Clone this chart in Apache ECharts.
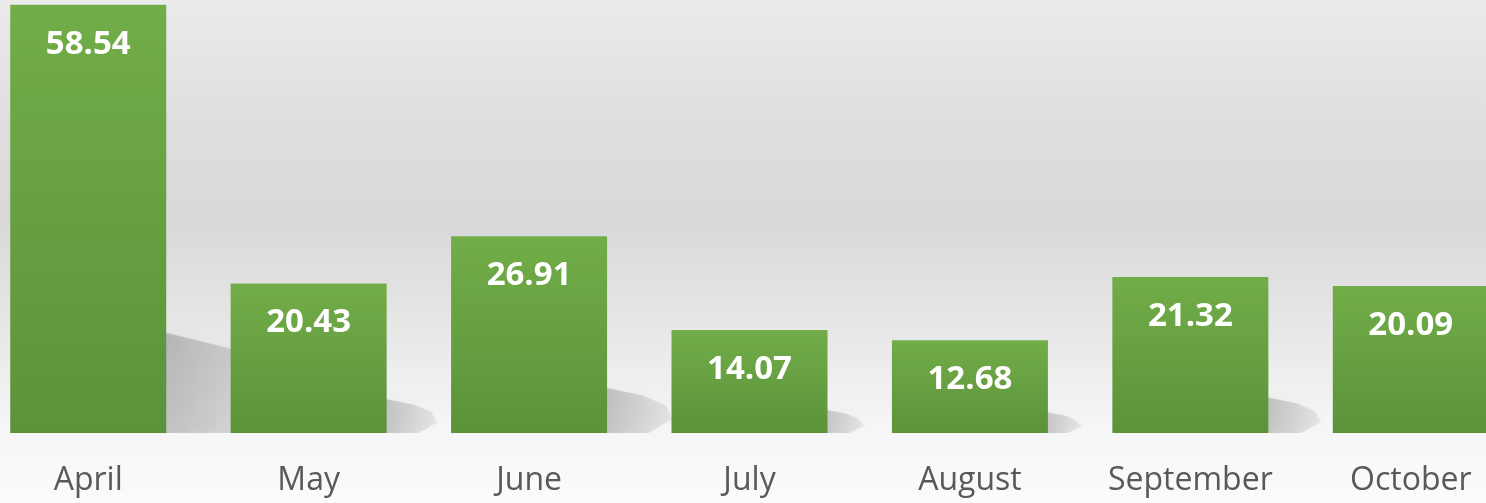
<!DOCTYPE html>
<html>
<head>
<meta charset="utf-8">
<script src="https://cdn.jsdelivr.net/npm/echarts@6/dist/echarts.min.js"></script>
<style>
html,body{margin:0;padding:0;width:1486px;height:503px;overflow:hidden;position:relative;}
body{background:linear-gradient(to bottom,#ebebeb 0%,#dedede 25%,#d9d9d9 45%,#e9e9e9 68%,#f6f6f6 85%,#fbfbfb 100%);}
#c{position:absolute;left:-22px;top:0;width:1543px;height:503px;}
</style>
</head>
<body>
<div id="c"></div>
<script>
const categories = ['April','May','June','July','August','September','October'];
const values = [58.54, 20.43, 26.91, 14.07, 12.68, 21.32, 20.09];

const chart = echarts.init(document.getElementById('c'), null, {renderer:'canvas'});
const BAR_W = 156;
chart.setOption({
  animation:false,
  backgroundColor:'transparent',
  grid:{left:0, right:0, top:0, bottom:70},
  xAxis:{
    type:'category', data:categories,
    axisLine:{show:false}, axisTick:{show:false},
    axisLabel:{color:'#595959', fontFamily:'Open Sans', fontSize:32, margin:32, interval:0}
  },
  yAxis:{type:'value', min:0, max:59.2, show:false, splitLine:{show:false}},
  series:[
    {
      type:'custom',
      z:1,
      clip:true,
      data:values.map((v,i)=>[i,v]),
      renderItem:function(params, api){
        const i = api.value(0), v = api.value(1);
        const top = api.coord([i, v]);
        const base = api.coord([i, 0]);
        const h = base[1]-top[1];
        const xr = base[0] + BAR_W/2;
        const dx = Math.min(0.3*h, 130);
        return {
          type:'polygon',
          shape:{points:[[xr-10, base[1]],[xr-10, base[1]-0.24*h],[xr+dx*0.6, base[1]-0.19*h],[xr+dx, base[1]-0.14*h],[xr+dx+6, base[1]-0.07*h],[xr+dx*0.7, base[1]]]},
          style:{
            fill:new echarts.graphic.LinearGradient(0,0,1,0,[{offset:0,color:'rgba(0,0,0,0.2)'},{offset:1,color:'rgba(0,0,0,0.06)'}]),
            shadowBlur:14, shadowColor:'rgba(0,0,0,0.18)'
          }
        };
      }
    },
    {
      type:'bar',
      z:2,
      data:values,
      barWidth:BAR_W,
      itemStyle:{
        color:new echarts.graphic.LinearGradient(0,0,0,1,[{offset:0,color:'#71ad48'},{offset:1,color:'#5c923a'}])
      },
      label:{
        show:true, position:'insideTop', distance:23,
        color:'#ffffff', fontFamily:'Open Sans', fontWeight:'bold', fontSize:33,
        formatter:p=>p.value.toFixed(2)
      }
    }
  ]
});
</script>
</body>
</html>
